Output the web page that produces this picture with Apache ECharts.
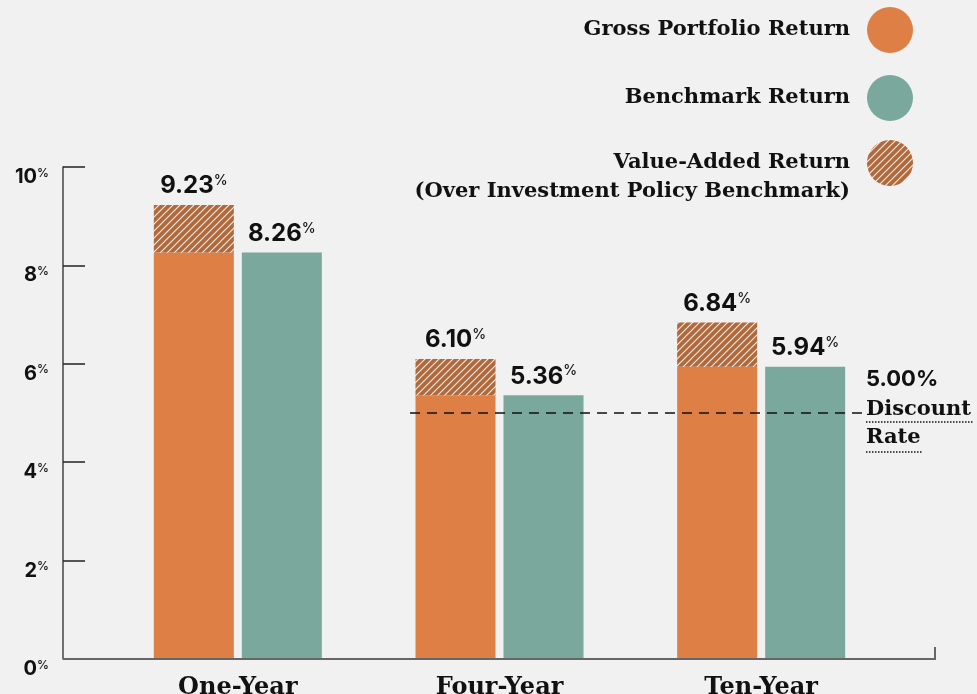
<!DOCTYPE html>
<html lang="en">
<head>
    <meta charset="UTF-8">
    <title>Returns</title>
    <script src="https://cdn.jsdelivr.net/npm/echarts@6/dist/echarts.min.js"></script>
    <style>
        html, body { margin: 0; padding: 0; background: #f1f1f1; }
    </style>
</head>
<body>
    <div id="chart" style="width: 977px; height: 694px;"></div>
    <script>
        const categories = ['One-Year', 'Four-Year', 'Ten-Year']
        const grossReturn = [9.23, 6.10, 6.84]
        const benchmarkReturn = [8.26, 5.36, 5.94]
        const discountRate = 5.00
        const yMin = 0
        const yMax = 10
        const yStep = 2

        const ORANGE = '#de7f46'
        const TEAL = '#7aa89c'
        const HATCH = '#b1683a'
        const INK = '#111'
        const SLAB = '"DejaVu Serif", "Liberation Serif", serif'
        const SANS = 'Inter, "Noto Sans", sans-serif'

        // diagonal stripes used by the value-added bars and its legend dot
        const makeHatch = () => {
            const s = 7
            const c = document.createElement('canvas')
            c.width = s
            c.height = s
            const ctx = c.getContext('2d')
            ctx.fillStyle = HATCH
            ctx.fillRect(0, 0, s, s)
            ctx.strokeStyle = 'rgba(255,255,255,0.9)'
            ctx.lineWidth = 1.1
            const seg = (x0, y0, x1, y1) => {
                ctx.beginPath()
                ctx.moveTo(x0, y0)
                ctx.lineTo(x1, y1)
                ctx.stroke()
            }
            seg(-1, s + 1, s + 1, -1)
            seg(-1, 1, 1, -1)
            seg(s - 1, s + 1, s + 1, s - 1)
            return c
        }
        const hatch = makeHatch()

        const valueAdded = grossReturn.map((g, i) => +(g - benchmarkReturn[i]).toFixed(2))

        const pctRich = (size, supSize) => ({
            n: { fontFamily: SANS, fontWeight: 700, fontSize: size, color: INK },
            p: { fontFamily: SANS, fontWeight: 500, fontSize: supSize, color: INK, verticalAlign: 'top' }
        })

        const chart = echarts.init(document.getElementById('chart'))

        const legendItems = [
            { label: 'Gross Portfolio Return', fill: ORANGE, y: 30 },
            { label: 'Benchmark Return', fill: TEAL, y: 98 },
            { label: 'Value-Added Return', fill: { image: hatch, repeat: 'repeat' }, y: 163,
              sub: '(Over Investment Policy Benchmark)' }
        ]

        const render = () => {
            const option = {
                backgroundColor: '#f1f1f1',
                animation: false,
                grid: { left: 107, right: 85, top: 167, bottom: 35, outerBoundsMode: 'none' },
                xAxis: {
                    type: 'category',
                    data: categories,
                    axisLine: { show: false },
                    axisTick: { show: false },
                    axisLabel: {
                        margin: 17,
                        fontFamily: SLAB,
                        fontWeight: 'bold',
                        fontSize: 24,
                        color: INK
                    }
                },
                yAxis: {
                    type: 'value',
                    min: yMin,
                    max: yMax,
                    interval: yStep,
                    offset: 44,
                    splitLine: { show: false },
                    axisLine: { show: true, lineStyle: { color: '#444', width: 1.5 } },
                    axisTick: { show: true, inside: true, length: 22, lineStyle: { color: '#222', width: 1.5 } },
                    axisLabel: {
                        margin: 14,
                        verticalAlign: 'top',
                        formatter: v => `{n|${v}}{p|%}`,
                        rich: {
                            n: { fontFamily: SANS, fontWeight: 700, fontSize: 20, color: INK, lineHeight: 20 },
                            p: { fontFamily: SANS, fontWeight: 500, fontSize: 12, color: INK, verticalAlign: 'top' }
                        }
                    }
                },
                series: [
                    {
                        name: 'Gross Portfolio Return',
                        type: 'bar',
                        stack: 'gross',
                        barWidth: 80,
                        barGap: '10%',
                        itemStyle: { color: ORANGE },
                        data: benchmarkReturn
                    },
                    {
                        name: 'Value-Added Return',
                        type: 'bar',
                        stack: 'gross',
                        itemStyle: { color: { image: hatch, repeat: 'repeat' } },
                        label: {
                            show: true,
                            position: 'top',
                            distance: 7,
                            formatter: p => `{n|${grossReturn[p.dataIndex].toFixed(2)}}{p|%}`,
                            rich: pctRich(24, 14)
                        },
                        data: valueAdded
                    },
                    {
                        name: 'Benchmark Return',
                        type: 'bar',
                        barWidth: 80,
                        itemStyle: { color: TEAL },
                        label: {
                            show: true,
                            position: 'top',
                            distance: 7,
                            formatter: p => `{n|${p.value.toFixed(2)}}{p|%}`,
                            rich: pctRich(24, 14)
                        },
                        data: benchmarkReturn
                    }
                ]
            }
            chart.setOption(option)

            // decorations placed from the scales
            const y0 = chart.convertToPixel({ yAxisIndex: 0 }, yMin)
            const yDisc = chart.convertToPixel({ yAxisIndex: 0 }, discountRate)
            const elements = []

            elements.push({
                type: 'polyline',
                shape: { points: [[63, y0], [935, y0], [935, y0 - 12]] },
                style: { stroke: '#666', lineWidth: 2, fill: null },
                z: 10
            })
            elements.push({
                type: 'line',
                shape: { x1: 410, y1: yDisc, x2: 866, y2: yDisc },
                style: { stroke: '#111', lineWidth: 1.6, lineDash: [10, 7] },
                z: 10
            })
            elements.push({
                type: 'text',
                left: 866, top: yDisc - 45,
                style: { text: discountRate.toFixed(2) + '%', font: `700 22px ${SANS}`, fill: INK }
            })
            elements.push({
                type: 'text',
                left: 866, top: yDisc - 14,
                style: { text: 'Discount', font: `bold 21px ${SLAB}`, fill: INK }
            })
            elements.push({
                type: 'text',
                left: 866, top: yDisc + 14,
                style: { text: 'Rate', font: `bold 21px ${SLAB}`, fill: INK }
            })
            elements.push({
                type: 'line',
                shape: { x1: 866, y1: yDisc + 9, x2: 973, y2: yDisc + 9 },
                style: { stroke: '#111', lineWidth: 1.5, lineDash: [1.5, 1.5] }
            })
            elements.push({
                type: 'line',
                shape: { x1: 866, y1: yDisc + 39, x2: 922, y2: yDisc + 39 },
                style: { stroke: '#111', lineWidth: 1.5, lineDash: [1.5, 1.5] }
            })

            legendItems.forEach(item => {
                elements.push({
                    type: 'circle',
                    shape: { cx: 890, cy: item.y, r: 23 },
                    style: { fill: item.fill }
                })
                elements.push({
                    type: 'text',
                    style: {
                        x: 850, y: item.y,
                        text: item.label,
                        align: 'right', verticalAlign: 'middle',
                        font: `bold 21px ${SLAB}`, fill: INK
                    }
                })
                if (item.sub) {
                    elements.push({
                        type: 'text',
                        style: {
                            x: 850, y: item.y + 29,
                            text: item.sub,
                            align: 'right', verticalAlign: 'middle',
                            font: `bold 21px ${SLAB}`, fill: INK
                        }
                    })
                }
            })

            chart.setOption({ graphic: { elements } })
        }

        window.onload = () => {
            render()
        }
    </script>
</body>
</html>
